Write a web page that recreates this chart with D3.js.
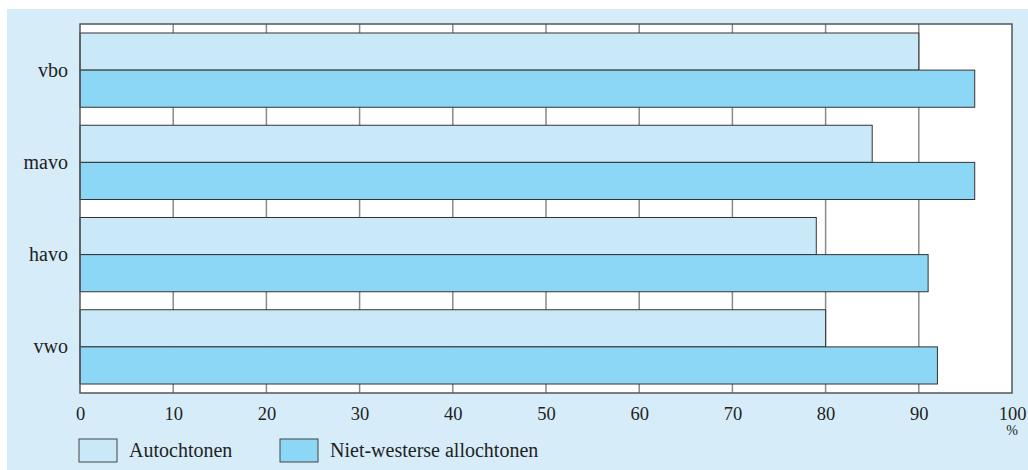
<!DOCTYPE html>
<html><head><meta charset="utf-8">
<script src="https://cdn.jsdelivr.net/npm/d3@7/dist/d3.min.js"></script>
<style>body{margin:0;background:#fff}svg{display:block}</style>
</head><body><svg id="c" width="1028" height="470"></svg>
<script>
const categories = ["vbo","mavo","havo","vwo"];
const series = ["Autochtonen","Niet-westerse allochtonen"];
const autochtonen = [90,85,79,80];
const nietWesters = [96,96,91,92];
const xTicks = [0,10,20,30,40,50,60,70,80,90,100];
const colors = ["#c9e9f8","#8cd7f6"];
const font = "'Liberation Serif','DejaVu Serif',serif";

const svg = d3.select("#c");
svg.append("rect").attr("x",7).attr("y",9).attr("width",1021).attr("height",461).attr("fill","#d6edf9");

const L=80,R=1012,T=24,B=393;
const x = d3.scaleLinear().domain([0,100]).range([L,R]);
const y = d3.scaleBand().domain(categories).range([T,B]).paddingInner(0.195).paddingOuter(0.0975);
const sub = d3.scaleBand().domain(series).range([0,y.bandwidth()]);

svg.append("rect").attr("x",L).attr("y",T).attr("width",R-L).attr("height",B-T).attr("fill","#fff");

// gridlines
svg.append("g").selectAll("line").data(xTicks.slice(1,-1)).join("line")
  .attr("x1",d=>x(d)).attr("x2",d=>x(d)).attr("y1",T).attr("y2",B)
  .attr("stroke","#8a8a8a").attr("stroke-width",1.5);

const data = [];
categories.forEach((c,i)=>{
  data.push({c,s:series[0],v:autochtonen[i],k:0});
  data.push({c,s:series[1],v:nietWesters[i],k:1});
});
svg.append("g").selectAll("rect").data(data).join("rect")
  .attr("x",x(0)).attr("y",d=>y(d.c)+sub(d.s))
  .attr("width",d=>x(d.v)-x(0)).attr("height",sub.bandwidth())
  .attr("fill",d=>colors[d.k]).attr("stroke","#333").attr("stroke-width",1);

// border
svg.append("rect").attr("x",L).attr("y",T).attr("width",R-L).attr("height",B-T)
  .attr("fill","none").attr("stroke","#555").attr("stroke-width",1.5);

// x axis labels
const xa = svg.append("g").attr("transform",`translate(0,${B})`)
  .call(d3.axisBottom(x).tickValues(xTicks).tickSize(0).tickPadding(14).tickFormat(d3.format("d")));
xa.select(".domain").remove();
xa.selectAll("text").attr("font-family",font).attr("font-size",18.5).attr("fill","#222");
svg.append("text").attr("x",x(100)).attr("y",435).attr("text-anchor","middle")
  .attr("font-family",font).attr("font-size",14).attr("fill","#222").text("%");

// y axis labels
const ya = svg.append("g").attr("transform",`translate(${L},0)`)
  .call(d3.axisLeft(y).tickSize(0).tickPadding(12));
ya.select(".domain").remove();
ya.selectAll("text").attr("font-family",font).attr("font-size",20).attr("fill","#222");

// legend
const legX=[79,280];
const lg = svg.append("g").selectAll("g").data(series).join("g")
  .attr("transform",(d,i)=>`translate(${legX[i]},439)`);
lg.append("rect").attr("width",38).attr("height",23).attr("fill",(d,i)=>colors[i])
  .attr("stroke","#444").attr("stroke-width",1);
lg.append("text").attr("x",50).attr("y",18).attr("font-family",font).attr("font-size",20)
  .attr("fill","#222").text(d=>d);
</script></body></html>
